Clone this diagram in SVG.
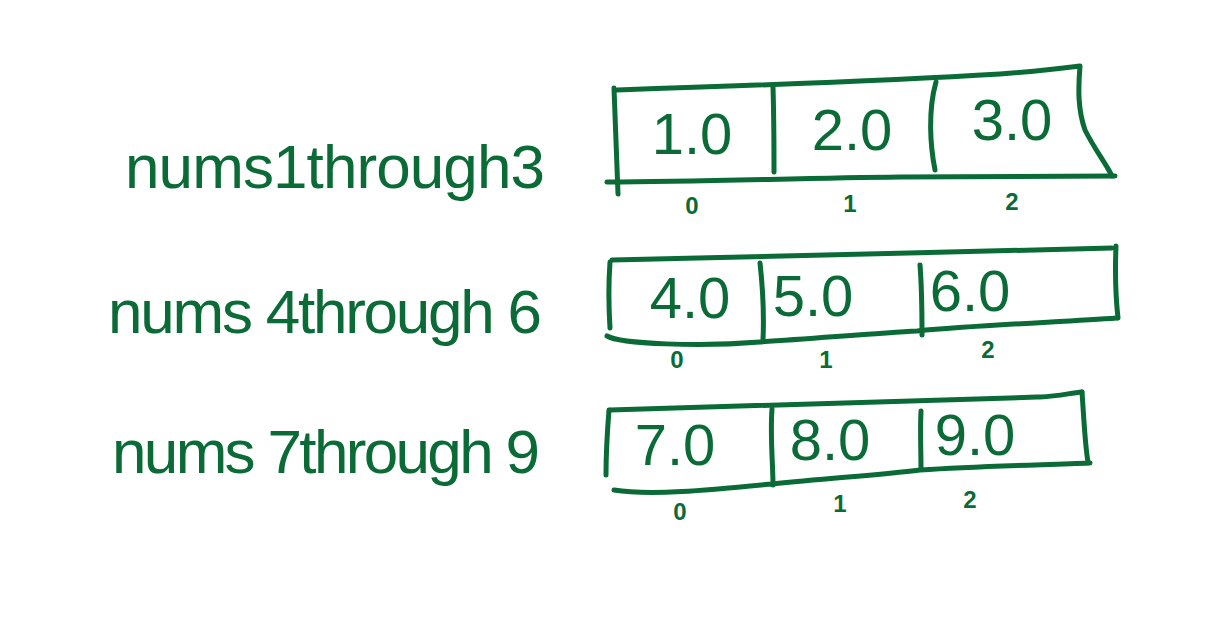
<svg xmlns="http://www.w3.org/2000/svg" width="1206" height="617" viewBox="0 0 1206 617">
<style>
.ln{fill:none;stroke:#0b6b37;stroke-width:5;stroke-linecap:round;stroke-linejoin:round}
.lbl{fill:#0b6b37;font-family:"Liberation Sans",Arial,sans-serif;font-size:62px}
.val{fill:#0b6b37;font-family:"Liberation Sans",Arial,sans-serif;font-size:58px;text-anchor:middle}
.idx{fill:#0b6b37;font-family:"Liberation Sans",Arial,sans-serif;font-size:24px;font-weight:bold;text-anchor:middle}
</style>
<rect width="1206" height="617" fill="#ffffff"/>
<g id="label1"><text class="lbl" x="125" y="188" textLength="420">nums1through3</text></g>
<g id="label2"><text class="lbl" x="108" y="333" font-size="56" textLength="434">nums 4through 6</text></g>
<g id="label3"><text class="lbl" x="112" y="473" font-size="56" textLength="428">nums 7through 9</text></g>

<g id="array1">
<path class="ln" d="M617,90 C740,86 900,80 1000,74 C1040,71 1065,68 1080,66 C1078,90 1078,110 1085,130 C1095,150 1105,162 1112,176"/>
<path class="ln" d="M614,88 L618,194"/>
<path class="ln" d="M607,182 C700,182 800,178 900,177 C980,176 1060,176 1115,176"/>
<path class="ln" d="M773,87 C774,120 774,150 774,172"/>
<path class="ln" d="M936,82 C928,110 930,145 935,170"/>
<text class="val" x="692" y="154">1.0</text>
<text class="val" x="852" y="150">2.0</text>
<text class="val" x="1012" y="140">3.0</text>
<text class="idx" x="692" y="214">0</text>
<text class="idx" x="850" y="212">1</text>
<text class="idx" x="1012" y="210">2</text>
</g>

<g id="array2">
<path class="ln" d="M612,260 C760,257 950,252 1112,248"/>
<path class="ln" d="M610,262 C608,290 609,312 610,328"/>
<path class="ln" d="M1116,246 C1115,270 1116,300 1118,318"/>
<path class="ln" d="M607,336 C620,344 700,347 760,342 C820,338 880,333 917,331 C980,325 1060,322 1117,318"/>
<path class="ln" d="M760,263 C763,290 764,318 763,340"/>
<path class="ln" d="M920,265 C922,290 922,315 922,335"/>
<text class="val" x="690" y="318">4.0</text>
<text class="val" x="813" y="316">5.0</text>
<text class="val" x="970" y="311">6.0</text>
<text class="idx" x="677" y="368">0</text>
<text class="idx" x="826" y="368">1</text>
<text class="idx" x="988" y="358">2</text>
</g>

<g id="array3">
<path class="ln" d="M610,410 C760,405 900,402 1040,397 C1060,396 1070,393 1082,392"/>
<path class="ln" d="M609,410 C607,435 606,455 606,475"/>
<path class="ln" d="M1082,392 C1084,420 1085,445 1088,462"/>
<path class="ln" d="M614,490 C650,496 710,490 772,484 C830,478 880,475 920,470 C980,466 1040,465 1090,463"/>
<path class="ln" d="M772,409 C770,435 773,465 773,485"/>
<path class="ln" d="M921,411 C920,430 921,452 921,468"/>
<text class="val" x="675" y="465">7.0</text>
<text class="val" x="830" y="460">8.0</text>
<text class="val" x="975" y="455">9.0</text>
<text class="idx" x="680" y="520">0</text>
<text class="idx" x="840" y="512">1</text>
<text class="idx" x="970" y="508">2</text>
</g>
</svg>
